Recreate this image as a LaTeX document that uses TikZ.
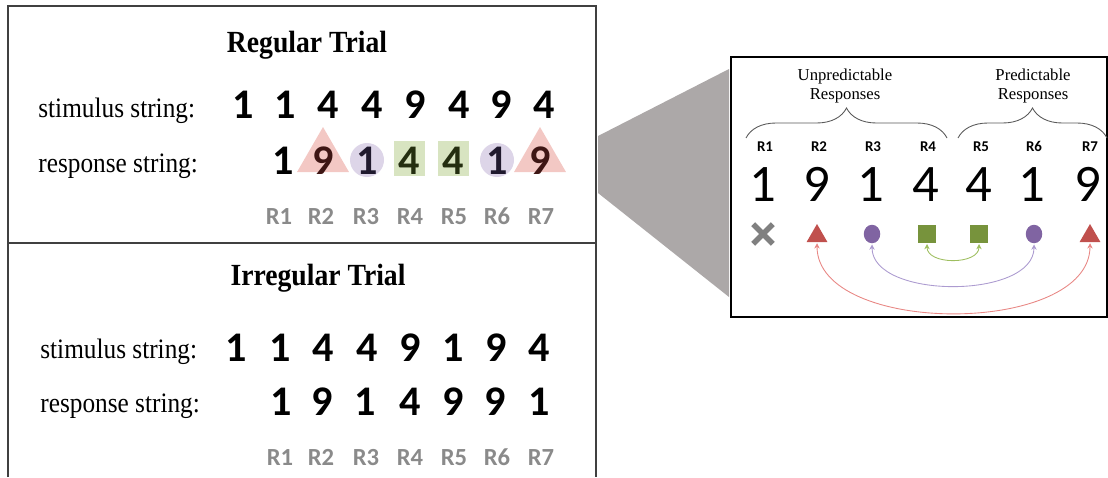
\documentclass[tikz,border=0pt]{standalone}
\usepackage{fontspec}
\setmainfont{Liberation Serif}
\newfontfamily\digitfont{Carlito}
\newfontfamily\labelfont[FakeStretch=0.9]{Liberation Serif}
\usepackage{tikz}
\usetikzlibrary{arrows.meta}
\usetikzlibrary{shapes.geometric,shapes.misc}
\usetikzlibrary{decorations.pathreplacing}

\definecolor{framegray}{RGB}{64,64,64}
\definecolor{rgray}{RGB}{138,138,138}
\definecolor{zoomgray}{RGB}{172,168,168}
\definecolor{lpink}{RGB}{243,200,196}
\definecolor{lpurple}{RGB}{221,213,232}
\definecolor{lgreen}{RGB}{216,228,193}
\definecolor{dred}{RGB}{62,22,20}
\definecolor{dpurple}{RGB}{32,26,46}
\definecolor{dgreen}{RGB}{36,46,16}
\definecolor{mred}{RGB}{192,80,77}
\definecolor{mpurple}{RGB}{128,100,162}
\definecolor{mgreen}{RGB}{119,147,60}
\definecolor{mgray}{RGB}{128,128,128}
\definecolor{ared}{RGB}{232,135,132}
\definecolor{apurple}{RGB}{172,155,208}
\definecolor{agreen}{RGB}{158,190,95}

\begin{document}
\begin{tikzpicture}[x=0.02cm,y=-0.02cm,>=Stealth,
	digit/.style={font=\digitfont\bfseries\fontsize{24}{24}\selectfont,anchor=base,inner sep=0pt},
	rlab/.style={font=\digitfont\bfseries\fontsize{14}{14}\selectfont,text=rgray,anchor=base,inner sep=0pt},
	rowlab/.style={font=\labelfont\fontsize{16}{16}\selectfont,anchor=base west,inner sep=0pt},
	trialtitle/.style={font=\labelfont\bfseries\fontsize{17.5}{17.5}\selectfont,anchor=base,inner sep=0pt},
	bigdigit/.style={font=\digitfont\fontsize{30}{30}\selectfont,anchor=base,inner sep=0pt},
	smallr/.style={font=\digitfont\bfseries\fontsize{8.5}{8.5}\selectfont,anchor=base,inner sep=0pt},
	grouplab/.style={font=\fontsize{9.5}{10.5}\selectfont,align=center,inner sep=0pt},
	tri/.style={regular polygon,regular polygon sides=3,inner sep=0pt},
	brace/.style={draw=black!65,line width=0.5pt,decorate,decoration={brace,amplitude=0.6cm}},
	link/.style={line width=0.5pt,shorten <=0.5pt,shorten >=0.5pt,{Stealth[length=3pt,width=3pt]}-{Stealth[length=3pt,width=3pt]}}]
	\useasboundingbox (0,0) rectangle (1108,477);

	% frame of the two trials
	\draw[framegray,line width=1.1pt] (8,477)--(8,6)--(596,6)--(596,477);
	\draw[framegray,line width=1.1pt] (8,243)--(596,243);

	% regular trial
	\node[trialtitle] (regtitle) at (307,52) {Regular Trial};
	\node[rowlab] (regstim) at (38,117) {stimulus string:};
	\node[rowlab] (regresp) at (38,172) {response string:};
	\foreach \x/\d [count=\i] in {243/1,285/1,328/4,372/4,415/9,459/4,501/9,544/4}
		\node[digit] (rs\i) at (\x,118) {\d};
	\node[tri,fill=lpink,minimum size=1.2cm] (sh2) at (323,157) {};
	\node[circle,fill=lpurple,minimum size=0.68cm] (sh3) at (367,160) {};
	\node[rectangle,fill=lgreen,minimum width=0.62cm,minimum height=0.7cm] (sh4) at (409,158) {};
	\node[rectangle,fill=lgreen,minimum width=0.62cm,minimum height=0.7cm] (sh5) at (453,158) {};
	\node[circle,fill=lpurple,minimum size=0.68cm] (sh6) at (497,160) {};
	\node[tri,fill=lpink,minimum size=1.2cm] (sh7) at (540,157) {};
	\foreach \x/\d/\c [count=\i] in {283/1/black,323/9/dred,367/1/dpurple,409/4/dgreen,453/4/dgreen,497/1/dpurple,540/9/dred}
		\node[digit,text=\c] (rr\i) at (\x,174) {\d};
	\foreach \x [count=\i] in {279,321,366,410,454,497,541}
		\node[rlab] (rl\i) at (\x,224) {R\i};

	% irregular trial
	\node[trialtitle] (irrtitle) at (318,285) {Irregular Trial};
	\node[rowlab] (irrstim) at (40,358) {stimulus string:};
	\node[rowlab] (irrresp) at (40,412) {response string:};
	\foreach \x/\d [count=\i] in {236/1,280/1,323/4,367/4,410/9,453/1,496/9,539/4}
		\node[digit] (is\i) at (\x,361) {\d};
	\foreach \x/\d [count=\i] in {281/1,322/9,365/1,410/4,453/9,495/9,539/1}
		\node[digit] (ir\i) at (\x,415) {\d};
	\foreach \x [count=\i] in {280,321,366,410,454,497,541}
		\node[rlab] (il\i) at (\x,465) {R\i};

	% zoom wedge and detail box
	\fill[zoomgray] (598,136)--(729,69)--(729,297)--(598,193)--cycle;
	\draw[black,line width=0.8pt] (731,57) rectangle (1107,317);

	\draw[brace] (746,138) -- (947,138);
	\draw[brace] (958,138) -- (1107,138);
	\node[grouplab] (unpred) at (845,86) {Unpredictable\\Responses};
	\node[grouplab] (pred) at (1033,86) {Predictable\\Responses};

	\foreach \x/\d [count=\i] in {765/1,819/9,873/1,928/4,981/4,1034/1,1090/9}{
		\node[smallr] (k\i) at (\x,151) {R\i};
		\node[bigdigit] (b\i) at (\x-2,201) {\d};
	}

	% markers
	\node[cross out,draw=mgray,line width=3.2pt,minimum size=0.28cm,inner sep=0pt] (m1) at (763,234) {};
	\node[tri,fill=mred,minimum size=0.48cm] (m2) at (817,236) {};
	\node[ellipse,fill=mpurple,minimum width=0.33cm,minimum height=0.37cm,inner sep=0pt] (m3) at (872,234) {};
	\node[rectangle,fill=mgreen,minimum size=0.35cm,inner sep=0pt] (m4) at (927,234) {};
	\node[rectangle,fill=mgreen,minimum size=0.35cm,inner sep=0pt] (m5) at (979,234) {};
	\node[ellipse,fill=mpurple,minimum width=0.33cm,minimum height=0.37cm,inner sep=0pt] (m6) at (1034,234) {};
	\node[tri,fill=mred,minimum size=0.48cm] (m7) at (1090,236) {};

	\draw[link,agreen] (m4.south) .. controls +(0,22) and +(0,22) .. (m5.south);
	\draw[link,apurple] (m3.south) .. controls +(0,56) and +(0,56) .. (m6.south);
	\draw[link,ared] (m2.south) .. controls +(0,94) and +(0,94) .. (m7.south);
\end{tikzpicture}
\end{document}
